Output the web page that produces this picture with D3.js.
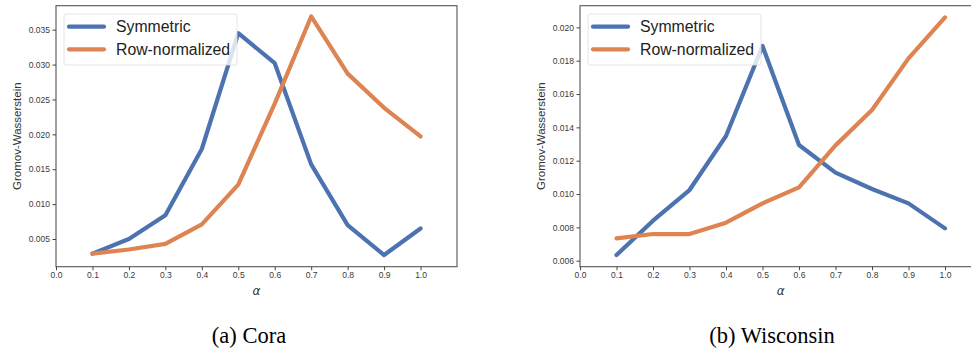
<!DOCTYPE html>
<html>
<head>
<meta charset="utf-8">
<script src="https://cdn.jsdelivr.net/npm/d3@7"></script>
<style>
  body { margin: 0; background: #fff; overflow: hidden; }
  svg { display: block; }
  .tick text { font-family: "Liberation Sans", Arial, sans-serif; font-size: 8.5px; fill: #3a3a3a; }
  .tick line { stroke: #444; }
</style>
</head>
<body>
<div id="chart"></div>
<script>
/*
 * Data.
 */
var alphas = [0.1, 0.2, 0.3, 0.4, 0.5, 0.6, 0.7, 0.8, 0.9, 1.0]
  , xTicks = [0.0, 0.1, 0.2, 0.3, 0.4, 0.5, 0.6, 0.7, 0.8, 0.9, 1.0];

var coraSymmetric = [0.0029, 0.0050, 0.0084, 0.0179, 0.0345, 0.0302, 0.0157, 0.0070, 0.0027, 0.0065]
  , coraRowNorm   = [0.0029, 0.0035, 0.0043, 0.0071, 0.0128, 0.0244, 0.0369, 0.0287, 0.0238, 0.0197]
  , coraYTicks    = [0.005, 0.010, 0.015, 0.020, 0.025, 0.030, 0.035];

var wiscSymmetric = [0.00634, 0.0084, 0.01024, 0.01348, 0.01888, 0.01294, 0.01128, 0.0103, 0.00944, 0.00794]
  , wiscRowNorm   = [0.00734, 0.0076, 0.0076, 0.00828, 0.00944, 0.0104, 0.01292, 0.01504, 0.01814, 0.0206]
  , wiscYTicks    = [0.006, 0.008, 0.010, 0.012, 0.014, 0.016, 0.018, 0.020];

var seriesNames = ["Symmetric", "Row-normalized"]
  , colors = ["#4c72b0", "#dd8452"];

var width = 971
  , height = 351;

var svg = d3.select('#chart').append('svg')
  .attr('width', width)
  .attr('height', height);

drawPanel({
  left: 56, right: 457, top: 5.7, bottom: 266.7,
  yDomain: [0.00103, 0.03844],
  yTicks: coraYTicks,
  series: [coraSymmetric, coraRowNorm],
  caption: "(a) Cora", captionX: 249,
  ylabelX: 17,
  legend: { x: 64, y: 14, w: 173, h: 51 }
});

drawPanel({
  left: 580, right: 981.5, top: 5.7, bottom: 266.7,
  yDomain: [0.00564, 0.0213],
  yTicks: wiscYTicks,
  series: [wiscSymmetric, wiscRowNorm],
  caption: "(b) Wisconsin", captionX: 772,
  ylabelX: 541,
  legend: { x: 588, y: 14, w: 173, h: 51 }
});


/*
 * Helper to draw one panel.
 */
function drawPanel(cfg) {
  var x = d3.scaleLinear().domain([0, 1.1]).range([cfg.left, cfg.right])
    , y = d3.scaleLinear().domain(cfg.yDomain).range([cfg.bottom, cfg.top]);

  var g = svg.append('g');

  // frame
  g.append('rect')
    .attr('x', cfg.left)
    .attr('y', cfg.top)
    .attr('width', cfg.right - cfg.left)
    .attr('height', cfg.bottom - cfg.top)
    .attr('fill', 'none')
    .attr('stroke', '#555')
    .attr('stroke-width', 1.1);

  var xAxis = g.append('g')
    .attr('transform', 'translate(0,' + cfg.bottom + ')')
    .call(d3.axisBottom(x).tickValues(xTicks).tickFormat(d3.format('.1f')).tickSizeOuter(0).tickSize(3.5).tickPadding(2));
  xAxis.select('.domain').remove();

  var yAxis = g.append('g')
    .attr('transform', 'translate(' + cfg.left + ',0)')
    .call(d3.axisLeft(y).tickValues(cfg.yTicks).tickFormat(d3.format('.3f')).tickSizeOuter(0).tickSize(3.5).tickPadding(2.5));
  yAxis.select('.domain').remove();

  var line = d3.line()
    .x(function(d, i) { return x(alphas[i]); })
    .y(function(d) { return y(d); });

  g.selectAll('path.series')
    .data(cfg.series)
    .enter()
    .append('path')
    .attr('class', 'series')
    .attr('d', line)
    .attr('fill', 'none')
    .attr('stroke', function(d, i) { return colors[i]; })
    .attr('stroke-width', 4.2)
    .attr('stroke-linejoin', 'round')
    .attr('stroke-linecap', 'round');

  // axis titles
  g.append('text')
    .attr('x', x(0.55))
    .attr('y', 295)
    .attr('text-anchor', 'middle')
    .attr('font-family', '"DejaVu Sans", sans-serif')
    .attr('font-style', 'italic')
    .attr('font-size', 12)
    .attr('fill', '#333')
    .text('α');

  g.append('text')
    .attr('transform', 'translate(' + cfg.ylabelX + ',' + (cfg.top + cfg.bottom) / 2 + ') rotate(-90)')
    .attr('dy', '0.35em')
    .attr('text-anchor', 'middle')
    .attr('font-family', '"Liberation Sans", Arial, sans-serif')
    .attr('font-size', 11.5)
    .attr('fill', '#333')
    .text('Gromov-Wasserstein');

  // legend
  var lg = g.append('g');
  lg.append('rect')
    .attr('x', cfg.legend.x)
    .attr('y', cfg.legend.y)
    .attr('width', cfg.legend.w)
    .attr('height', cfg.legend.h)
    .attr('rx', 2)
    .attr('fill', 'rgba(255,255,255,0.8)')
    .attr('stroke', '#ddd')
    .attr('stroke-width', 0.8);

  var items = lg.selectAll('g.item')
    .data(seriesNames)
    .enter()
    .append('g')
    .attr('class', 'item')
    .attr('transform', function(d, i) {
      return 'translate(' + cfg.legend.x + ',' + (cfg.legend.y + 12.7 + i * 22.6) + ')';
    });

  items.append('line')
    .attr('x1', 5).attr('x2', 40)
    .attr('stroke', function(d, i) { return colors[i]; })
    .attr('stroke-width', 4.2)
    .attr('stroke-linecap', 'round');

  items.append('text')
    .attr('x', 52)
    .attr('dy', '0.35em')
    .attr('font-family', '"Liberation Sans", Arial, sans-serif')
    .attr('font-size', 15.8)
    .attr('fill', '#222')
    .text(function(d) { return d; });

  // caption
  svg.append('text')
    .attr('x', cfg.captionX)
    .attr('y', 343)
    .attr('text-anchor', 'middle')
    .attr('font-family', '"Liberation Serif", "Times New Roman", serif')
    .attr('font-size', 22.5)
    .attr('fill', '#000')
    .text(cfg.caption);
}
</script>
</body>
</html>
